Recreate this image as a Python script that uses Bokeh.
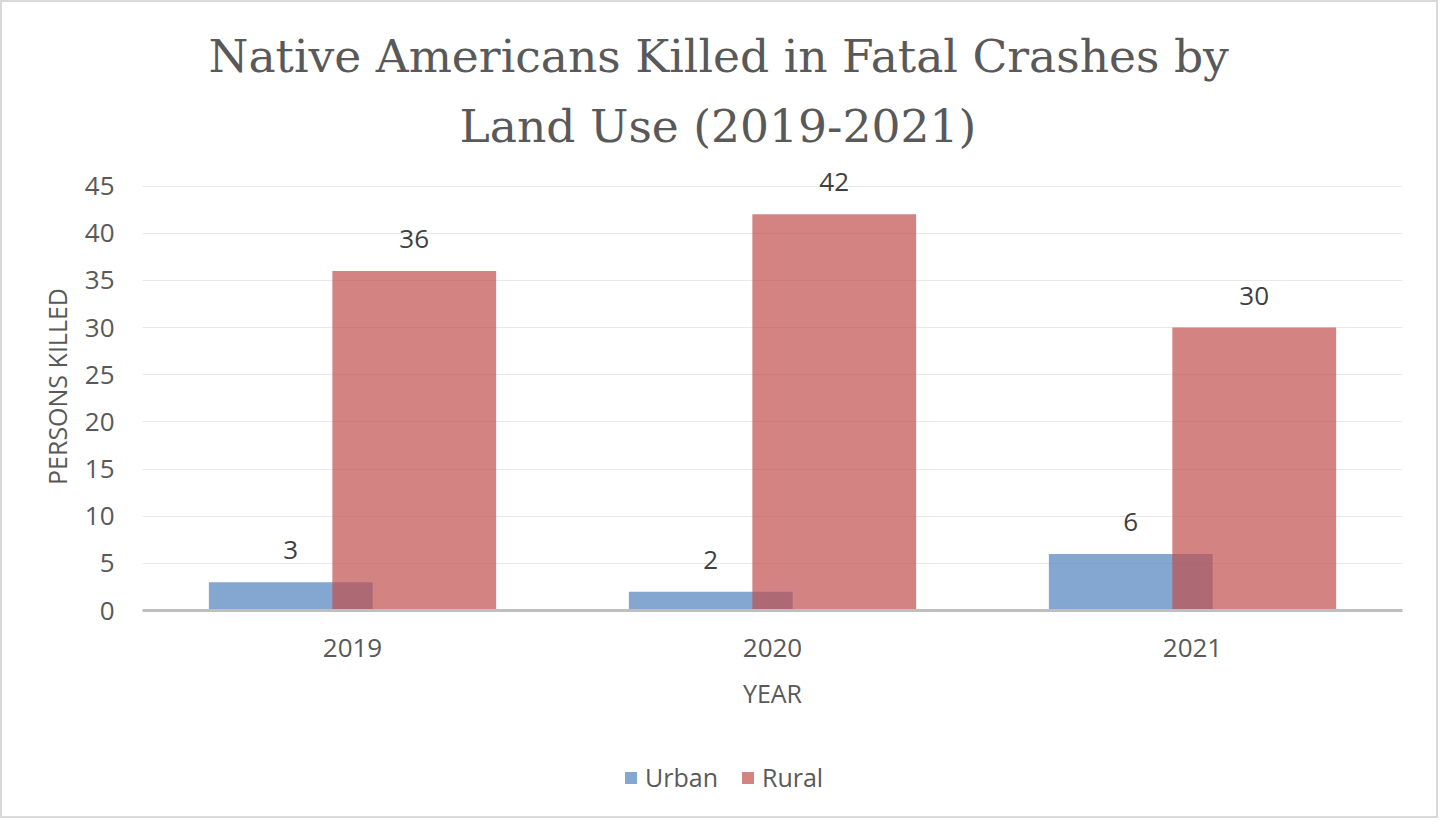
from bokeh.plotting import figure
from bokeh.layouts import column
from bokeh.models import FactorRange, Range1d, Title, Legend, LegendItem, ColumnDataSource, SingleIntervalTicker
from bokeh.transform import dodge
from bokeh.core.properties import value
from bokeh.embed import file_html
from bokeh.resources import INLINE

years = ["2019", "2020", "2021"]
urban = [3, 2, 6]
rural = [36, 42, 30]
series_names = ["Urban", "Rural"]
series_colors = ["#4F81BD", "#C0504D"]
title_lines = ["Native Americans Killed in Fatal Crashes by", "Land Use (2019-2021)"]

src = ColumnDataSource(dict(
    year=years, urban=urban, rural=rural,
    urban_lbl=[str(v) for v in urban], rural_lbl=[str(v) for v in rural],
))

TXT = "#595959"
FONT = "Open Sans"
TFONT = "DejaVu Serif"

p = figure(x_range=FactorRange(factors=years), y_range=(0, 47.5),
           width=1434, height=736, output_backend="svg", toolbar_location=None,
           min_border_left=140, min_border_right=34, min_border_top=160, min_border_bottom=128)
p.outline_line_color = None
p.background_fill_color = "white"
p.border_fill_color = "white"

bw = 0.39
off = 0.147
p.vbar(x=dodge("year", -off, range=p.x_range), top="urban", width=bw, source=src,
       fill_color=series_colors[0], fill_alpha=0.7, line_color=None)
p.vbar(x=dodge("year", off, range=p.x_range), top="rural", width=bw, source=src,
       fill_color=series_colors[1], fill_alpha=0.7, line_color=None)

for col, lbl, o in [("urban", "urban_lbl", -off), ("rural", "rural_lbl", off)]:
    p.text(x=dodge("year", o, range=p.x_range), y=col, text=lbl, source=src,
           text_align="center", text_baseline="alphabetic", y_offset=-32,
           text_font=value(FONT), text_font_size="26px", text_color="#404040")

# axes
p.yaxis.ticker = SingleIntervalTicker(interval=5)
p.yaxis.axis_line_color = None
p.yaxis.major_tick_line_color = None
p.yaxis.minor_tick_line_color = None
p.yaxis.major_tick_out = 0
p.yaxis.major_label_standoff = 24
p.yaxis.major_label_text_font = FONT
p.yaxis.major_label_text_font_size = "26px"
p.yaxis.major_label_text_color = TXT
p.yaxis.axis_label = "PERSONS KILLED"
p.yaxis.axis_label_text_font = FONT
p.yaxis.axis_label_text_font_size = "25px"
p.yaxis.axis_label_text_font_style = "normal"
p.yaxis.axis_label_text_color = TXT
p.yaxis.axis_label_standoff = 8

p.xaxis.axis_line_color = "#BFBFBF"
p.xaxis.axis_line_width = 3
p.xaxis.major_tick_line_color = None
p.xaxis.minor_tick_line_color = None
p.xaxis.major_tick_out = 0
p.xaxis.major_label_standoff = 28
p.xaxis.major_label_text_font = FONT
p.xaxis.major_label_text_font_size = "26px"
p.xaxis.major_label_text_color = TXT
p.xaxis.axis_label = "YEAR"
p.xaxis.axis_label_text_font = FONT
p.xaxis.axis_label_text_font_size = "25px"
p.xaxis.axis_label_text_font_style = "normal"
p.xaxis.axis_label_text_color = TXT
p.xaxis.axis_label_standoff = 16

p.xgrid.grid_line_color = None
p.ygrid.grid_line_color = "#E8E8E8"
p.ygrid.grid_line_width = 1

# title: two lines
p.title.text = title_lines[0]
p.title.align = "left"
p.title.offset = 66
p.title.standoff = 11
p.title.text_font = TFONT
p.title.text_font_size = "45.6px"
p.title.text_font_style = "normal"
p.title.text_color = TXT
p.add_layout(Title(text=title_lines[1], align="left", offset=317, standoff=19,
                   text_font=TFONT, text_font_size="45.6px", text_font_style="normal",
                   text_color=TXT), "above")

# legend in its own strip below the chart
lg = figure(width=1434, height=78, output_backend="svg", toolbar_location=None,
            x_range=Range1d(0, 1), y_range=Range1d(0, 1), min_border=0)
lg.axis.visible = False
lg.grid.visible = False
lg.outline_line_color = None
lg.background_fill_color = "white"
lg.border_fill_color = "white"
lg_r = [lg.vbar(x=[0.5], top=[0], width=0.0, fill_color=c, fill_alpha=0.7, line_color=None)
        for c in series_colors]
legend = Legend(items=[LegendItem(label=n, renderers=[r]) for n, r in zip(series_names, lg_r)],
                location="left", orientation="horizontal",
                glyph_width=15, glyph_height=15, label_standoff=7, spacing=22,
                padding=0, margin=481, border_line_color=None, background_fill_alpha=0,
                label_text_font=FONT, label_text_font_size="25px", label_text_color=TXT)
lg.add_layout(legend, "center")

lay = column(p, lg, spacing=0)
lay.styles = {"border": "2px solid #D9D9D9"}

open("out.html", "w").write(file_html(lay, INLINE))
